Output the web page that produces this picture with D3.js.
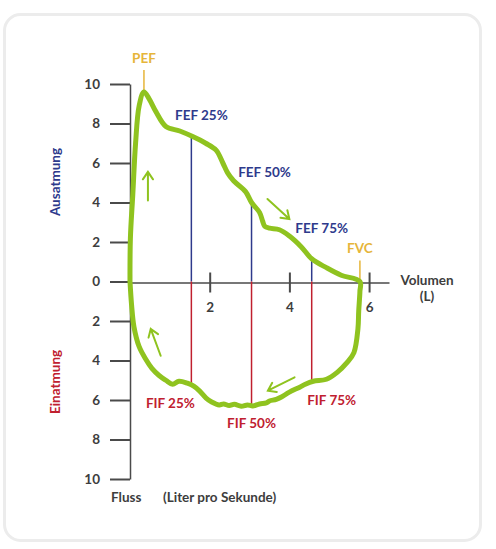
<!DOCTYPE html>
<html>
<head>
    <title>Fluss-Volumen-Kurve</title>
    <script src="https://d3js.org/d3.v7.min.js"></script>
    <style>
        body {
            margin: 0;
            padding: 0;
            background-color: #fff;
            font-family: Lato, "Open Sans", sans-serif;
        }
        .axis text {
            fill: #3d3d3d;
            font-family: Lato, sans-serif;
            font-weight: 700;
            font-size: 13.5px;
        }
        .axis path,
        .axis line {
            stroke: #4a4a4a;
            stroke-width: 2px;
        }
        .lbl {
            font-family: Lato, sans-serif;
            font-weight: 700;
            font-size: 13.5px;
        }
    </style>
</head>
<body>
    <svg id="chart"></svg>
    <script>
        // Ausatmung (expiration): volume (L), flow (L/s)
        const expVolume = [0, 0.01, 0.07, 0.14, 0.23, 0.35, 0.48, 0.65, 0.9, 1.25, 1.56, 1.9, 2.16, 2.33, 2.45, 2.6, 2.9, 3.05, 3.25, 3.33, 3.38, 3.5, 3.75, 4.0, 4.3, 4.56, 4.93, 5.3, 5.77];
        const expFlow   = [0, 2.2, 4.4, 7.0, 8.9, 9.6, 9.25, 8.6, 7.85, 7.62, 7.35, 7.0, 6.65, 6.0, 5.5, 5.1, 4.55, 4.0, 3.5, 3.05, 2.8, 2.7, 2.62, 2.3, 1.75, 1.15, 0.7, 0.32, 0];

        // Einatmung (inspiration)
        const inspVolume = [5.77, 5.77, 5.74, 5.72, 5.62, 5.45, 5.2, 4.93, 4.6, 4.4, 4.26, 4.0, 3.8, 3.67, 3.5, 3.42, 3.25, 3.08, 2.95, 2.79, 2.62, 2.49, 2.35, 2.24, 2.05, 1.91, 1.75, 1.6, 1.44, 1.23, 1.07, 0.9, 0.73, 0.55, 0.4, 0.23, 0.1, 0.04, 0];
        const inspFlow   = [0, -0.5, -1.5, -2.4, -3.6, -4.1, -4.6, -4.95, -5.05, -5.2, -5.35, -5.6, -5.85, -5.97, -6.05, -6.15, -6.2, -6.3, -6.25, -6.32, -6.22, -6.28, -6.2, -6.25, -6.1, -5.9, -5.55, -5.3, -5.15, -5.05, -5.2, -5.0, -4.76, -4.4, -3.95, -3.3, -2.3, -1.2, 0];

        // markers
        const fefLabels = ['FEF 25%', 'FEF 50%', 'FEF 75%'];
        const fifLabels = ['FIF 25%', 'FIF 50%', 'FIF 75%'];
        const markVolume = [1.54, 3.05, 4.56];
        const fefFlow = [7.3, 4.0, 1.1];
        const fifFlow = [-5.15, -6.3, -5.05];

        const pefVolume = 0.35, pefFlow = 9.6;
        const fvcVolume = 5.77;

        // direction arrows [fromVol, fromFlow, toVol, toFlow]
        const arrows = [
            [0.45, 4.1, 0.45, 5.55],
            [3.45, 4.18, 4.0, 3.16],
            [4.13, -4.85, 3.46, -5.53],
            [0.77, -3.76, 0.52, -2.4]
        ];

        const yTicks = [-10, -8, -6, -4, -2, 0, 2, 4, 6, 8, 10];
        const xTicks = [2, 4, 6];

        const W = 496, H = 549;
        const green = '#8fc31f', navy = '#2e3a8c', red = '#c0202f', gold = '#e6b53a';

        const svg = d3.select('#chart').attr('width', W).attr('height', H);

        // card
        svg.append('rect')
            .attr('x', 4.5).attr('y', 14.5)
            .attr('width', 476).attr('height', 526)
            .attr('rx', 16)
            .attr('fill', '#fff')
            .attr('stroke', '#ececec')
            .attr('stroke-width', 3);

        const x = d3.scaleLinear().domain([0, 6.5]).range([130, 389]);
        const y = d3.scaleLinear().domain([-10, 10]).range([479, 84]);

        // y axis
        svg.append('g')
            .attr('class', 'axis')
            .attr('transform', `translate(${x(0)},0)`)
            .call(d3.axisLeft(y)
                .tickValues(yTicks)
                .tickFormat(d => Math.abs(d))
                .tickSize(20)
                .tickSizeOuter(0)
                .tickPadding(10))
            .call(g => g.select('.domain').style('stroke-width', '1.5px'));

        // x axis
        svg.append('g')
            .attr('class', 'axis')
            .attr('transform', `translate(0,${y(0) + 1})`)
            .call(d3.axisBottom(x)
                .tickValues(xTicks)
                .tickFormat(d3.format('d'))
                .tickSize(10)
                .tickSizeOuter(0)
                .tickPadding(10))
            .call(g => g.selectAll('.tick line').attr('y1', -10))
            .call(g => g.select('.domain').style('stroke-width', '1.5px'));

        // marker lines
        const marks = svg.append('g');
        markVolume.forEach((v, i) => {
            marks.append('line')
                .attr('x1', x(v)).attr('x2', x(v))
                .attr('y1', y(0)).attr('y2', y(fefFlow[i]))
                .attr('stroke', navy).attr('stroke-width', 1.5);
            marks.append('line')
                .attr('x1', x(v)).attr('x2', x(v))
                .attr('y1', y(0)).attr('y2', y(fifFlow[i]))
                .attr('stroke', red).attr('stroke-width', 1.5);
        });

        // PEF and FVC markers
        svg.append('line')
            .attr('x1', x(pefVolume)).attr('x2', x(pefVolume))
            .attr('y1', y(pefFlow)).attr('y2', y(pefFlow) - 22)
            .attr('stroke', gold).attr('stroke-width', 1.5);
        svg.append('line')
            .attr('x1', x(fvcVolume)).attr('x2', x(fvcVolume))
            .attr('y1', y(0)).attr('y2', y(0) - 21)
            .attr('stroke', gold).attr('stroke-width', 1.5);

        // loop
        const line = d3.line()
            .x(d => x(d[0]))
            .y(d => y(d[1]))
            .curve(d3.curveCatmullRom.alpha(0.5));

        const loop = expVolume.map((v, i) => [v, expFlow[i]])
            .concat(inspVolume.slice(1).map((v, i) => [v, inspFlow[i + 1]]));

        svg.append('path')
            .datum(loop)
            .attr('d', line)
            .attr('fill', 'none')
            .attr('stroke', green)
            .attr('stroke-width', 5)
            .attr('stroke-linejoin', 'round')
            .attr('stroke-linecap', 'round');

        // arrows
        arrows.forEach(a => {
            const x1 = x(a[0]), y1 = y(a[1]), x2 = x(a[2]), y2 = y(a[3]);
            const ang = Math.atan2(y2 - y1, x2 - x1);
            const len = 9, spread = 0.6;
            const p1 = [x2 - len * Math.cos(ang - spread), y2 - len * Math.sin(ang - spread)];
            const p2 = [x2 - len * Math.cos(ang + spread), y2 - len * Math.sin(ang + spread)];
            svg.append('path')
                .attr('d', `M${x1},${y1}L${x2},${y2}M${p1[0]},${p1[1]}L${x2},${y2}L${p2[0]},${p2[1]}`)
                .attr('fill', 'none')
                .attr('stroke', green)
                .attr('stroke-width', 2)
                .attr('stroke-linecap', 'round');
        });

        // labels
        const fefNudge = [[10, -17], [13, -26], [10, -27]];
        const fifNudge = [[-21, 25], [0, 22], [20, 24]];
        fefLabels.forEach((t, i) => {
            svg.append('text').attr('class', 'lbl')
                .attr('x', x(markVolume[i]) + fefNudge[i][0])
                .attr('y', y(fefFlow[i]) + fefNudge[i][1])
                .attr('text-anchor', 'middle')
                .attr('fill', navy)
                .text(t);
        });
        fifLabels.forEach((t, i) => {
            svg.append('text').attr('class', 'lbl')
                .attr('x', x(markVolume[i]) + fifNudge[i][0])
                .attr('y', y(fifFlow[i]) + fifNudge[i][1])
                .attr('text-anchor', 'middle')
                .attr('fill', red)
                .text(t);
        });

        svg.append('text').attr('class', 'lbl')
            .attr('x', x(pefVolume)).attr('y', y(pefFlow) - 29)
            .attr('text-anchor', 'middle').attr('fill', gold).text('PEF');
        svg.append('text').attr('class', 'lbl')
            .attr('x', x(fvcVolume)).attr('y', y(0) - 29)
            .attr('text-anchor', 'middle').attr('fill', gold).text('FVC');

        svg.append('text').attr('class', 'lbl')
            .attr('x', 427).attr('y', 285)
            .attr('text-anchor', 'middle').attr('fill', '#3d3d3d').text('Volumen');
        svg.append('text').attr('class', 'lbl')
            .attr('x', 427).attr('y', 301)
            .attr('text-anchor', 'middle').attr('fill', '#3d3d3d').text('(L)');

        svg.append('text').attr('class', 'lbl')
            .attr('x', 111).attr('y', 502)
            .attr('fill', '#3d3d3d').text('Fluss');
        svg.append('text').attr('class', 'lbl')
            .attr('x', 163).attr('y', 502)
            .attr('fill', '#3d3d3d').text('(Liter pro Sekunde)');

        svg.append('text').attr('class', 'lbl')
            .attr('transform', 'translate(60,182) rotate(-90)')
            .attr('text-anchor', 'middle').attr('fill', navy).text('Ausatmung');
        svg.append('text').attr('class', 'lbl')
            .attr('transform', 'translate(60,382) rotate(-90)')
            .attr('text-anchor', 'middle').attr('fill', red).text('Einatmung');
    </script>
</body>
</html>
